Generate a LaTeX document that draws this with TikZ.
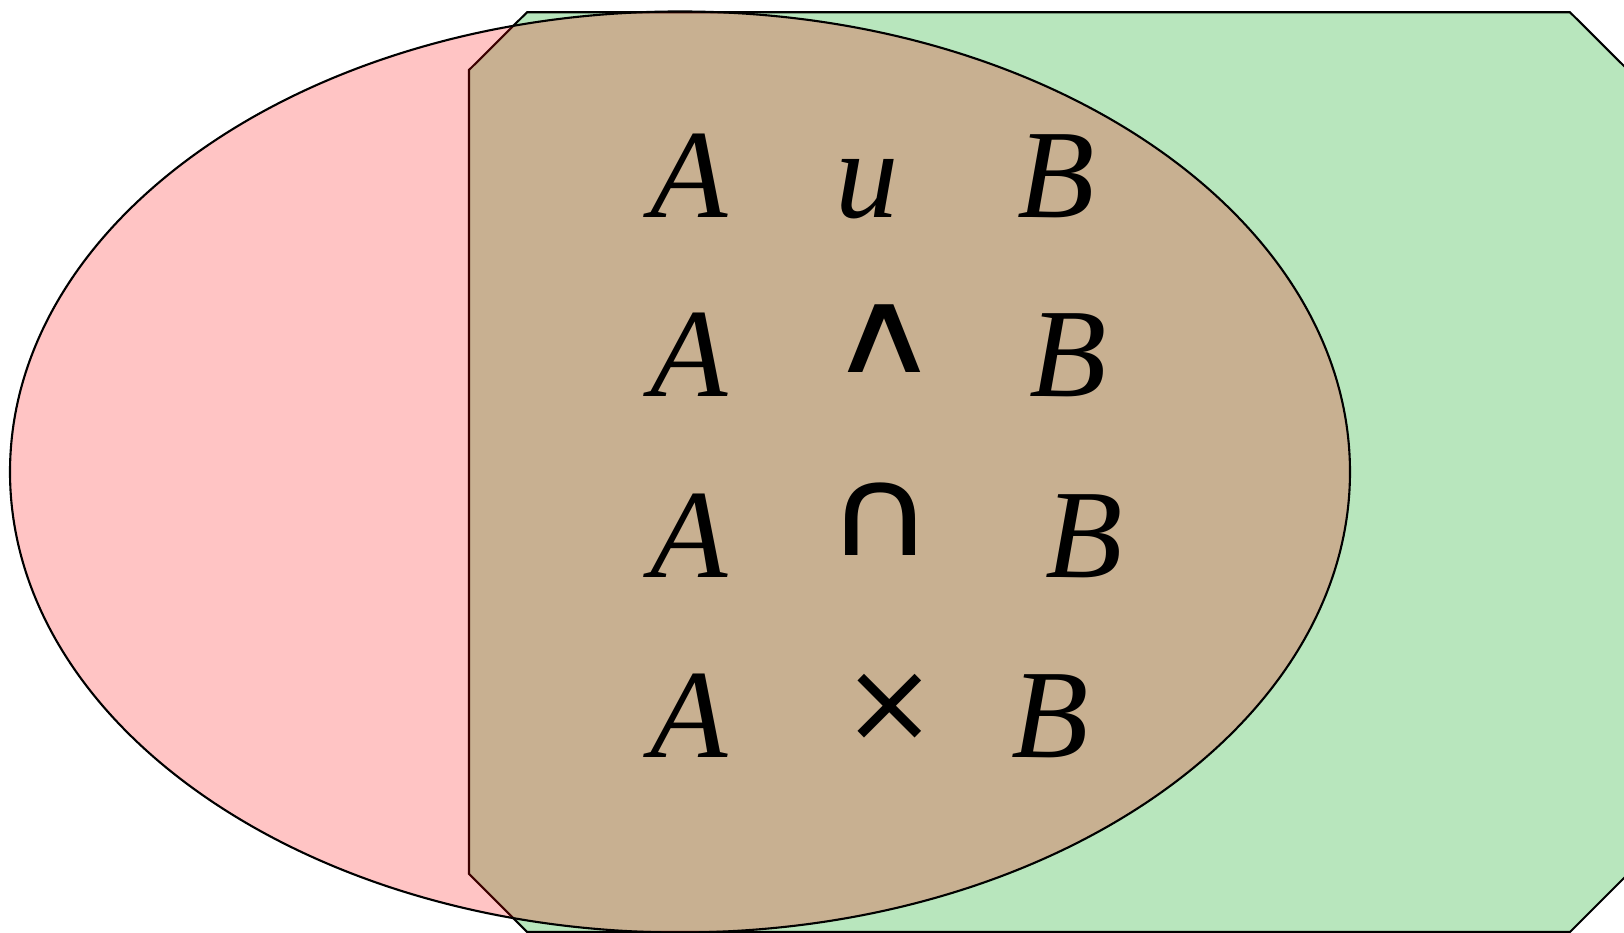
\documentclass[tikz,border=0pt]{standalone}
\usepackage{fontspec}
\setmainfont{Liberation Serif}
\newfontfamily\opfont{DejaVu Sans}
\usetikzlibrary{positioning}
\definecolor{setgreen}{RGB}{184,230,189}

\begin{document}
\begin{tikzpicture}[
    lt/.style={inner sep=0pt, anchor=base, font=\fontsize{36}{40}\selectfont\itshape},
    op/.style={inner sep=0pt, anchor=base, font=\fontsize{30}{34}\selectfont\opfont},
    rim/.style={draw=black, line width=0.6pt}
]
\useasboundingbox (0,0) rectangle (16.24,9.33);
\clip (0,0) rectangle (16.24,9.33);

% set B: chamfered box running off the right edge
\draw[rim, fill=setgreen] (4.69,8.63) -- (5.27,9.207) -- (15.70,9.207) -- (16.28,8.63)
    -- (16.28,0.59) -- (15.70,0.01) -- (5.27,0.01) -- (4.69,0.59) -- cycle;
% set A: translucent ellipse on top
\draw[rim, fill=red, fill opacity=0.23] (6.80,4.61) ellipse [x radius=6.70, y radius=4.605];

\node[lt] (a1) at (6.89,7.155) {A};
\node[lt] (u1) at (8.675,7.155) {u};
\node[lt] (b1) at (10.56,7.155) {B};

\node[lt] (a2) at (6.89,5.365) {A};
\node[op, xscale=1.45, yscale=1.11] (and) at (8.84,5.60) {∧};
\node[lt] (b2) at (10.685,5.365) {B};

\node[lt] (a3) at (6.89,3.555) {A};
\node[op, xscale=1.40, yscale=1.19] (cap3) at (8.805,3.77) {∩};
\node[lt] (b3) at (10.84,3.555) {B};

\node[lt] (a4) at (6.89,1.755) {A};
\node[op, scale=1.07] (times) at (8.90,1.91) {×};
\node[lt] (b4) at (10.50,1.755) {B};
\end{tikzpicture}
\end{document}
